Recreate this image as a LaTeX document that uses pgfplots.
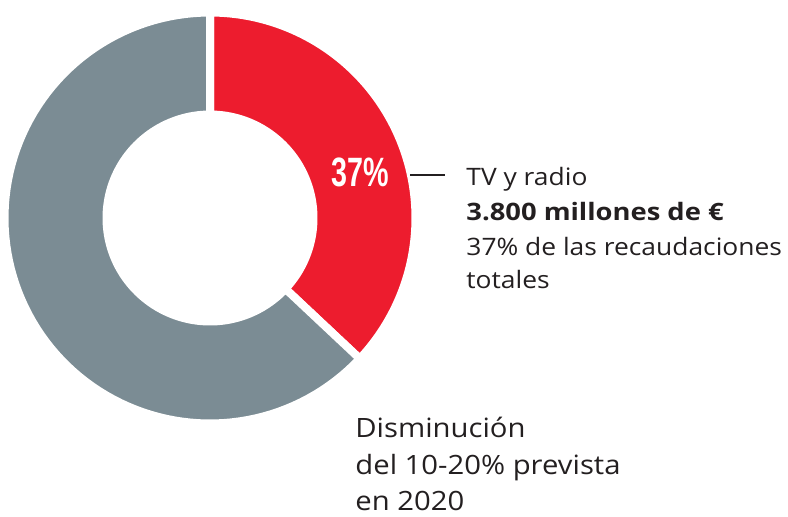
\documentclass[border=0pt]{standalone}
\usepackage{pgfplots}
\pgfplotsset{compat=1.18}
\usepackage{fontspec}
\setmainfont[FakeStretch=1.1]{Open Sans}
\newfontfamily\widebold[FakeStretch=1.14]{Open Sans}
\newfontfamily\condfont[FakeStretch=0.7]{Liberation Sans}
\definecolor{tvred}{HTML}{ED1C2E}
\definecolor{restgrey}{HTML}{7B8C94}
\definecolor{txt}{HTML}{231F20}
% data: shares in percent
\def\valTV{37}
\def\valRest{63}
\begin{document}
\begin{tikzpicture}
\pgfmathsetmacro\aStart{90}
\pgfmathsetmacro\aMid{90-3.6*\valTV}
\pgfmathsetmacro\aEnd{\aMid-3.6*\valRest}
\begin{axis}[width=394pt,height=258pt,scale only axis,
  xmin=0,xmax=788,ymin=0,ymax=516,hide axis,clip=false,
  declare function={
    angf(\s,\p,\q)=(\s<100)?(\p+(\q-\p)*\s/100):((\s<110)?\q:((\s<210)?(\q+(\p-\q)*(\s-110)/100):\p));
    radf(\s)=(\s<100)?205.5:((\s<110)?(205.5-10.2*(\s-100)):((\s<210)?103.5:(103.5+10.2*(\s-210))));
  }]
\addplot[fill=tvred, draw=white, line width=4pt, line join=round, domain=0:220, samples=221, variable=\t]
  ({210+radf(\t)*cos(angf(\t,\aStart,\aMid))}, {298+radf(\t)*sin(angf(\t,\aStart,\aMid))}) -- cycle;
\addplot[fill=restgrey, draw=white, line width=4pt, line join=round, domain=0:220, samples=221, variable=\t]
  ({210+radf(\t)*cos(angf(\t,\aMid,\aEnd))}, {298+radf(\t)*sin(angf(\t,\aMid,\aEnd))}) -- cycle;
\addplot[txt, line width=1pt] coordinates {(410,341) (445,341)};
\node[anchor=base, text=white, inner sep=0, font=\condfont\bfseries\fontsize{20.5}{24}\selectfont] at (axis cs:360.5,329.3) {37\%};
\node[anchor=base west, inner sep=0, text=txt, font=\fontsize{12}{14}\selectfont] at (axis cs:466,331) {TV y radio};
\node[anchor=base west, inner sep=0, text=txt, font=\widebold\bfseries\fontsize{12}{14}\selectfont] at (axis cs:466,296) {3.800 millones de €};
\node[anchor=base west, inner sep=0, text=txt, font=\fontsize{12}{14}\selectfont] at (axis cs:466,261) {37\% de las recaudaciones};
\node[anchor=base west, inner sep=0, text=txt, font=\fontsize{12}{14}\selectfont] at (axis cs:466,228) {totales};
\node[anchor=base west, inner sep=0, text=txt, font=\fontsize{13.3}{15}\selectfont] at (axis cs:355,79) {Disminución};
\node[anchor=base west, inner sep=0, text=txt, font=\fontsize{13.3}{15}\selectfont] at (axis cs:355,42) {del 10-20\% prevista};
\node[anchor=base west, inner sep=0, text=txt, font=\fontsize{13.3}{15}\selectfont] at (axis cs:355,6) {en 2020};
\end{axis}
\pgfresetboundingbox
\path (current axis.south west) rectangle (current axis.north east);
\end{tikzpicture}
\end{document}
